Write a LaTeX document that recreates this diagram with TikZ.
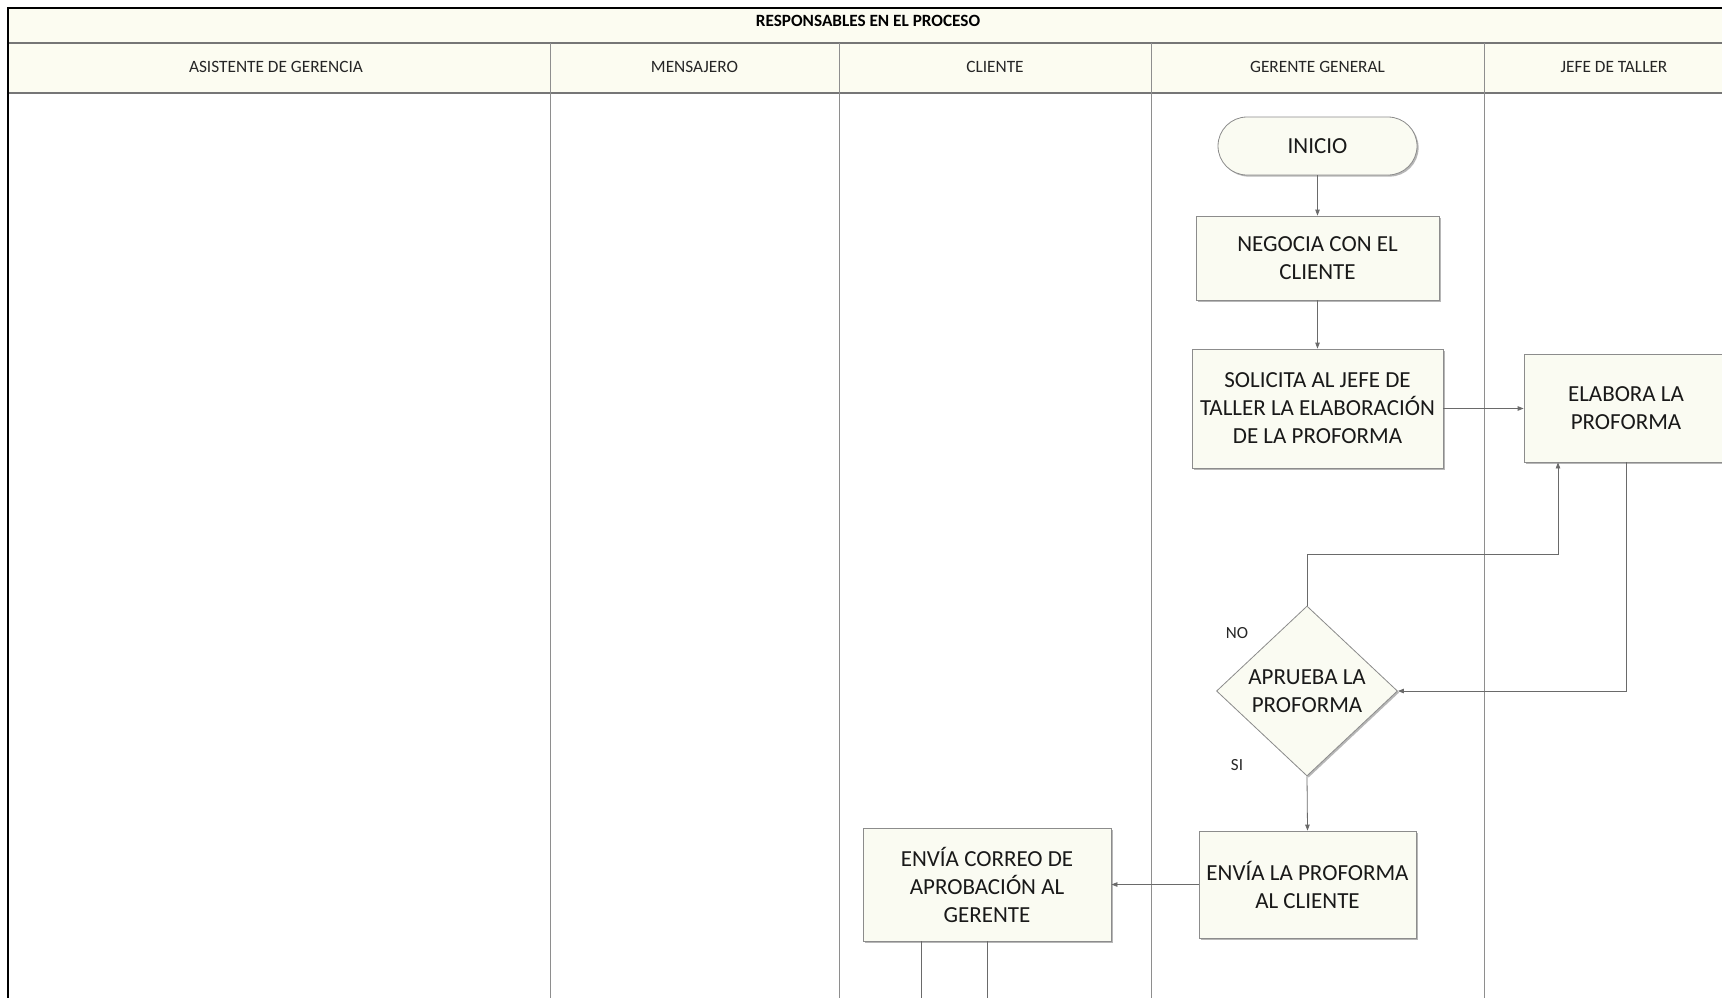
\documentclass[tikz,border=0pt]{standalone}
\usepackage{fontspec}
\setmainfont{Carlito}
\usetikzlibrary{arrows.meta,shapes.geometric,shadows}
\definecolor{hdrfill}{HTML}{FCFCF1}
\definecolor{boxfill}{HTML}{FAFBF2}
\definecolor{linegray}{HTML}{6A6A6A}
\definecolor{divgray}{HTML}{8E8E8E}
\definecolor{rulegray}{HTML}{767676}

\begin{document}
\begin{tikzpicture}[x=1pt,y=-1pt,
  boxtext/.style={font=\fontsize{23}{28}\selectfont, align=center, text=black!90},
  hdrtext/.style={font=\fontsize{17.3}{20}\selectfont, text=black!85},
  toptext/.style={font=\fontsize{17.2}{20}\selectfont\bfseries, text=black},
  lbltext/.style={font=\fontsize{17}{20}\selectfont, text=black!85},
  shade/.style={drop shadow={shadow xshift=1.6pt, shadow yshift=-1.6pt, fill=black!40, opacity=0.7}},
  proc/.style={boxtext, draw=black!45, line width=0.8pt, fill=boxfill, inner sep=0pt, shade},
  term/.style={proc, rounded corners=29pt},
  decision/.style={proc, shape=diamond, aspect=1.065},
  flow/.style={draw=linegray, line width=0.8pt, -{Triangle[length=6pt,width=4.5pt]}},
  conn/.style={draw=linegray, line width=0.8pt},
]
\useasboundingbox (0,0) rectangle (1722,997);
\clip (0,0) rectangle (1722,997);

% sheet background and header bands
\fill[white] (0,0) rectangle (1722,997);
\fill[hdrfill] (8,8) rectangle (1745,93);
\draw[rulegray, line width=1.3pt] (8,43) -- (1745,43);
\draw[rulegray, line width=1.3pt] (8,93) -- (1745,93);

% lane dividers
\foreach \lx in {550,839,1151,1484}
  \draw[divgray, line width=1pt] (\lx,43) -- (\lx,1010);

% outer frame
\draw[black, line width=2.5pt] (1745,8) -- (8,8) -- (8,1010);

% header texts
\node[toptext] (hresp) at (868,21) {RESPONSABLES EN EL PROCESO};
\node[hdrtext] (hasis) at (276,67) {ASISTENTE DE GERENCIA};
\node[hdrtext] (hmens) at (694.5,67) {MENSAJERO};
\node[hdrtext] (hclie) at (995,67) {CLIENTE};
\node[hdrtext] (hgere) at (1317.5,67) {GERENTE GENERAL};
\node[hdrtext] (hjefe) at (1614,67) {JEFE DE TALLER};

% process steps
\node[term, minimum width=199pt, minimum height=58pt] (inicio) at (1317.5,146) {INICIO};
\node[proc, minimum width=243pt, minimum height=84pt] (negocia) at (1317.5,258) {NEGOCIA CON EL\\CLIENTE};
\node[proc, minimum width=251pt, minimum height=119pt] (solicita) at (1317.5,408.5) {SOLICITA AL JEFE DE\\TALLER LA ELABORACIÓN\\DE LA PROFORMA};
\node[proc, minimum width=204pt, minimum height=108pt] (elabora) at (1626,408) {ELABORA LA\\PROFORMA};
\node[decision, minimum width=181pt, minimum height=170pt] (aprueba) at (1307,691) {APRUEBA LA\\PROFORMA};
\node[proc, minimum width=217pt, minimum height=107pt] (enviaprof) at (1307.5,884.5) {ENVÍA LA PROFORMA\\AL CLIENTE};
\node[proc, minimum width=248pt, minimum height=113pt] (correo) at (987,884.5) {ENVÍA CORREO DE\\APROBACIÓN AL\\GERENTE};

% decision labels
\node[lbltext] (lblno) at (1237,633) {NO};
\node[lbltext] (lblsi) at (1237,765) {SI};

% connectors
\draw[flow] (inicio) -- (negocia);
\draw[flow] (negocia) -- (solicita);
\draw[flow] (solicita.east) -- (solicita.east -| elabora.west);
\draw[flow] (elabora.south) |- (aprueba.east);
\coordinate (nobend) at (1558,554.5);
\draw[flow] (aprueba.north) |- (nobend) -- (nobend |- elabora.south);
\draw[flow] (aprueba.south) -- (enviaprof.north);
\draw[flow] (enviaprof.west) -- (correo.east);
\coordinate (exita) at (921.5,1005);
\coordinate (exitb) at (987.5,1005);
\draw[conn] (correo.south -| exita) -- (exita);
\draw[conn] (correo.south -| exitb) -- (exitb);
\end{tikzpicture}
\end{document}
